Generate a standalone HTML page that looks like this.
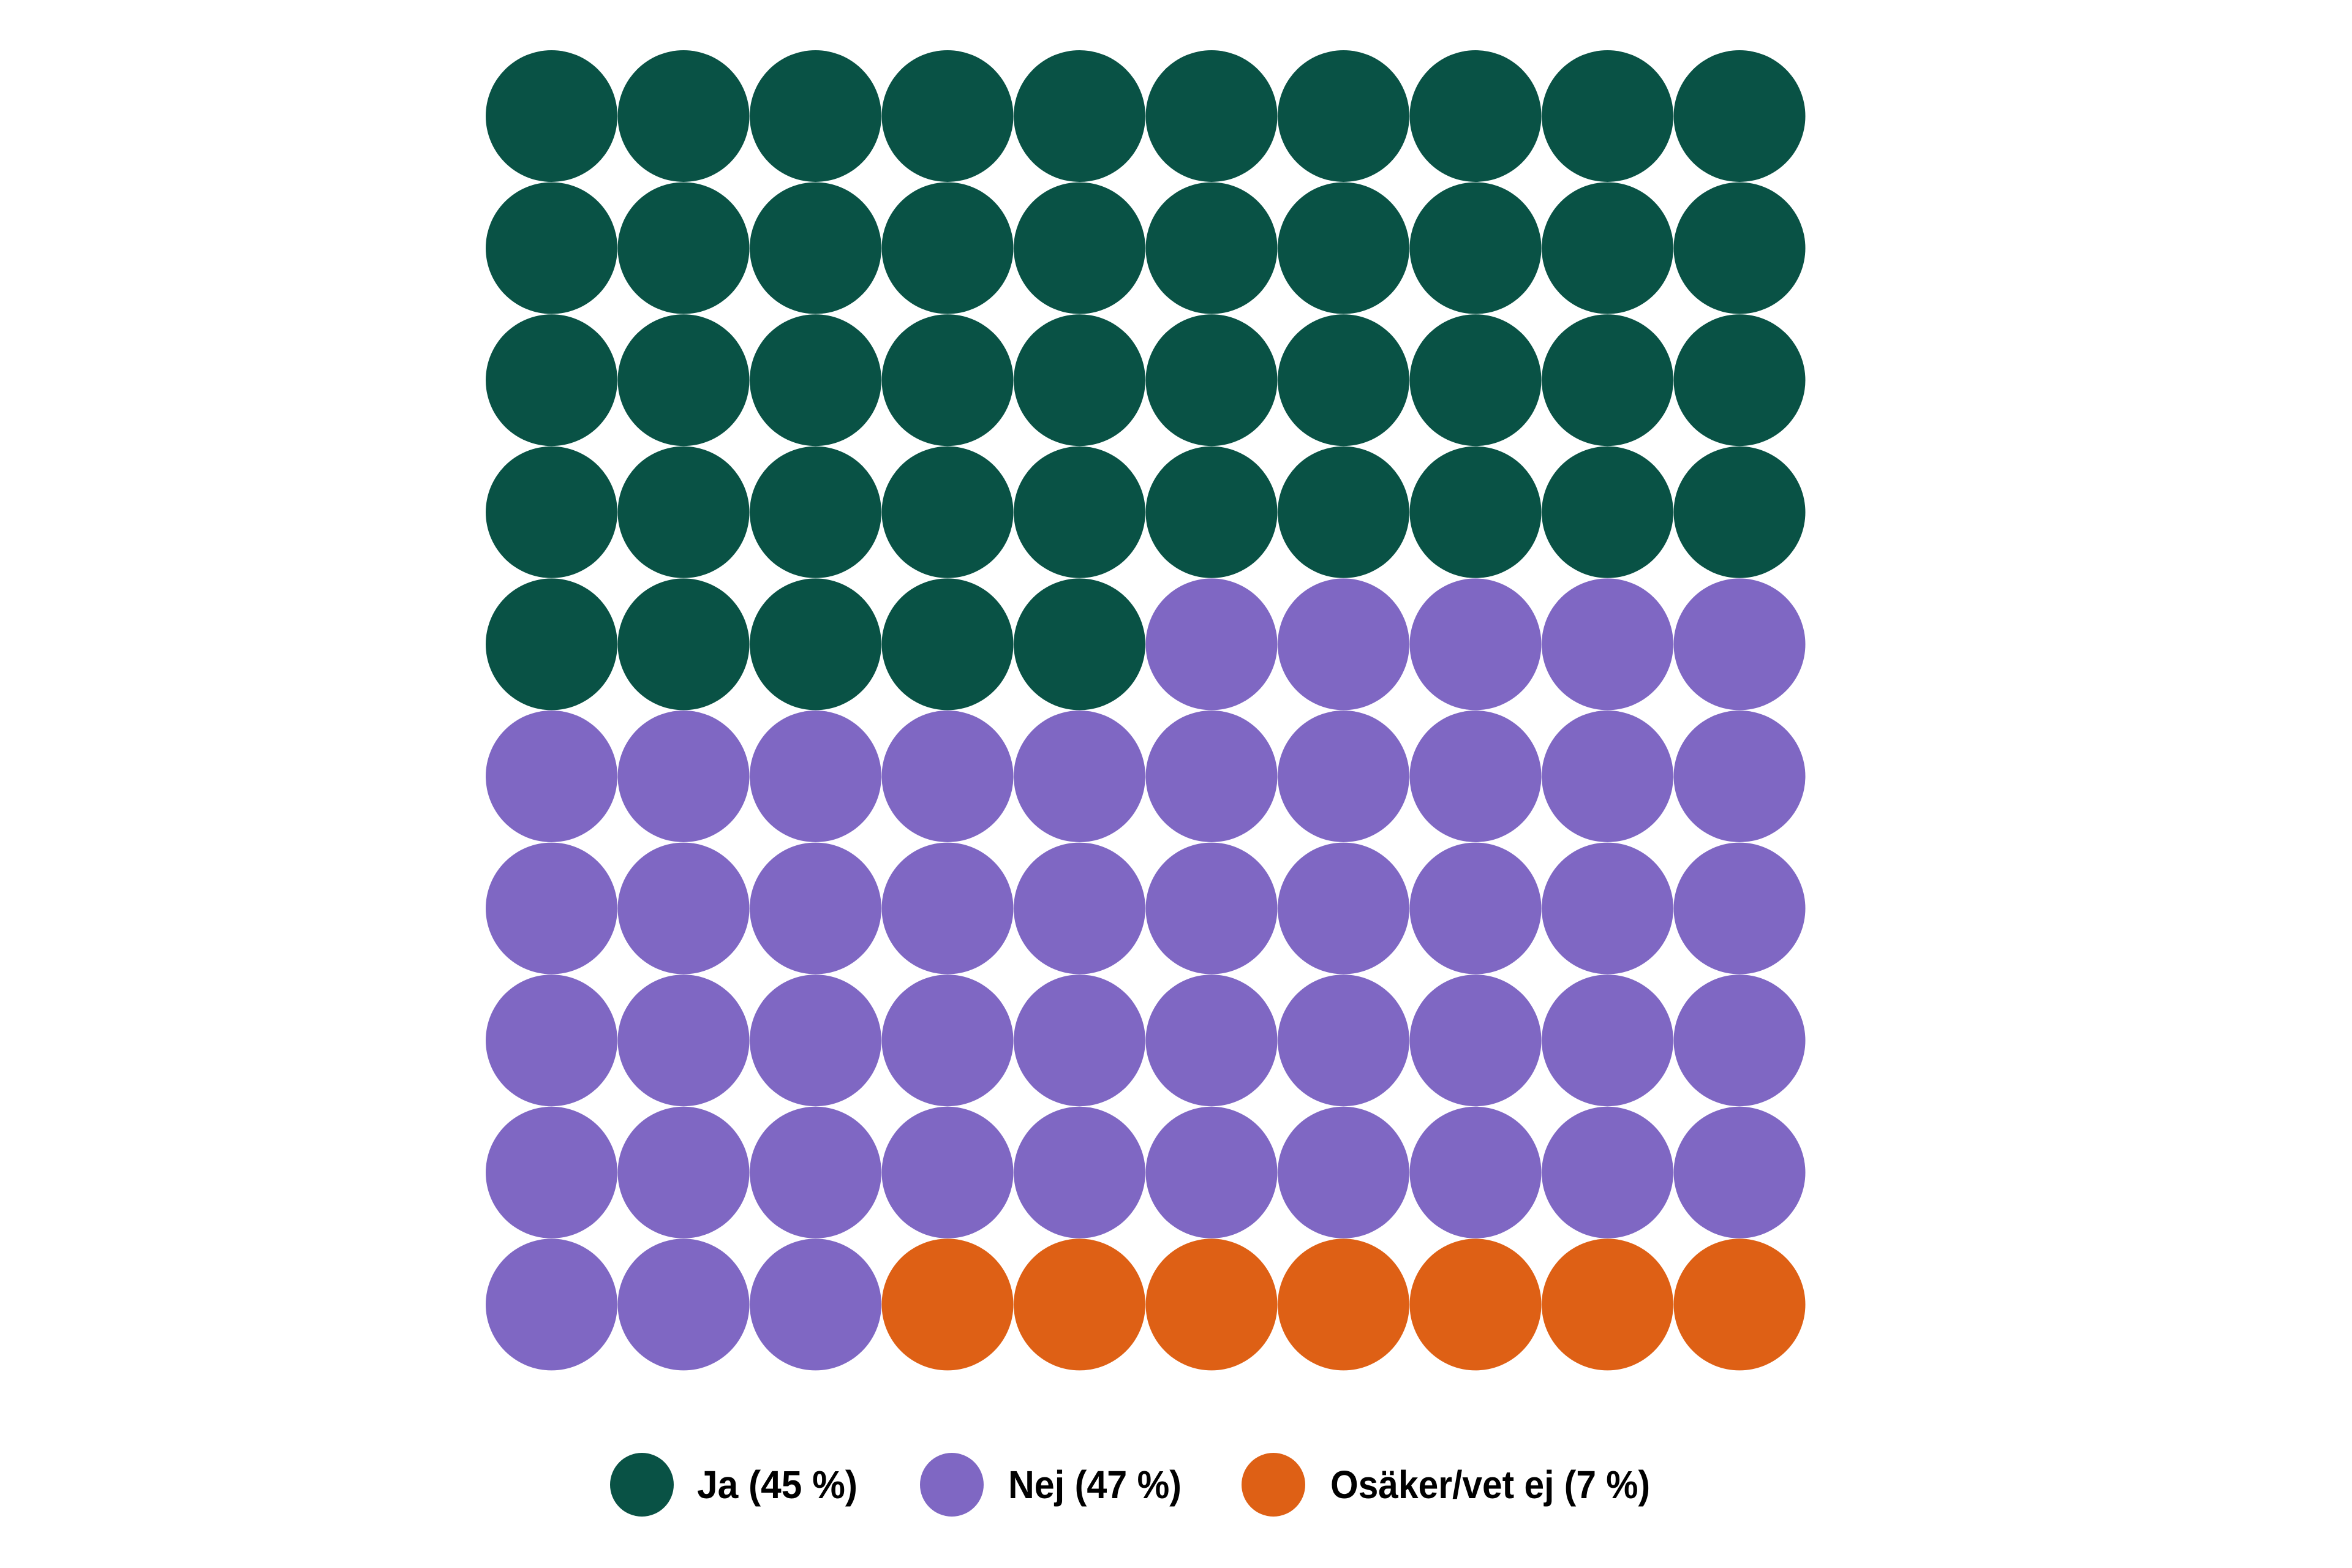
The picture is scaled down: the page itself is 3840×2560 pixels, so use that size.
<!DOCTYPE html>
<html><head><meta charset="utf-8"><style>html,body{margin:0;padding:0;background:#fff}svg{display:block}</style></head>
<body>
<svg width="3840" height="2560" viewBox="0 0 3840 2560" xmlns="http://www.w3.org/2000/svg">
<rect width="3840" height="2560" fill="#fff"/>
<g id="g"></g>
<g font-family="Liberation Sans, sans-serif" font-weight="bold" font-size="64" fill="#000">
<circle cx="1048" cy="2424" r="52" fill="#095245"/>
<text x="1138" y="2446" textLength="262" lengthAdjust="spacingAndGlyphs">Ja (45 %)</text>
<circle cx="1554" cy="2424" r="52" fill="#7f67c3"/>
<text x="1646" y="2446" textLength="283" lengthAdjust="spacingAndGlyphs">Nej (47 %)</text>
<circle cx="2079" cy="2424" r="52" fill="#de6015"/>
<text x="2172" y="2446" textLength="522" lengthAdjust="spacingAndGlyphs">Osäker/vet ej (7 %)</text>
</g>
</svg>
<script>
var g=document.getElementById('g'),s='';
for(var i=0;i<100;i++){var r=Math.floor(i/10),c=i%10;
var col=i<45?'#095245':(i<93?'#7f67c3':'#de6015');
s+='<circle cx="'+(900.5+c*215.5)+'" cy="'+(189.5+r*215.6)+'" r="107.5" fill="'+col+'"/>';}
g.innerHTML=s;
</script>
</body></html>
